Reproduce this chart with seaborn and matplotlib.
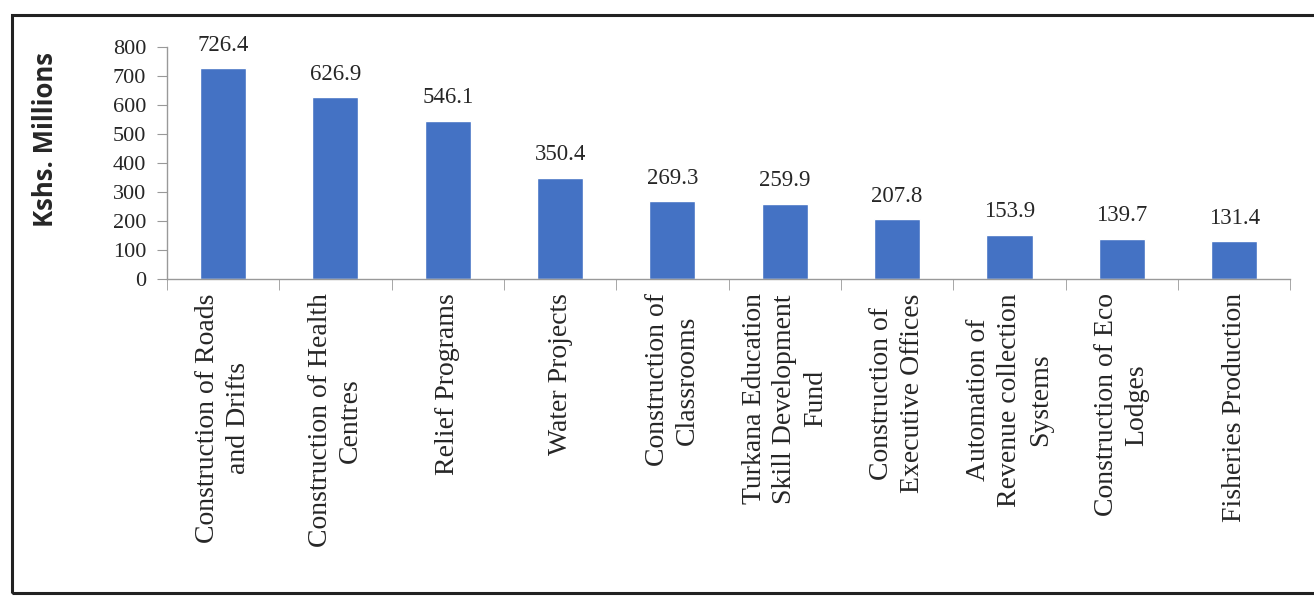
import matplotlib
matplotlib.use('Agg')
import matplotlib.pyplot as plt
import seaborn as sns
import pandas as pd
from matplotlib.patches import Rectangle

# projects and allocations (Kshs. Millions)
projects = ['Construction of Roads\nand Drifts', 'Construction of Health\nCentres', 'Relief Programs',
            'Water Projects', 'Construction of\nClassrooms', 'Turkana Education\nSkill Development\nFund',
            'Construction of\nExecutive Offices', 'Automation of\nRevenue collection\nSystems',
            'Construction of Eco\nLodges', 'Fisheries Production']
amounts = [726.4, 626.9, 546.1, 350.4, 269.3, 259.9, 207.8, 153.9, 139.7, 131.4]
yticks = [0, 100, 200, 300, 400, 500, 600, 700, 800]

df = pd.DataFrame({'Project': projects, 'Amount': amounts})

sns.set_style('white')
plt.rcParams['font.family'] = ['Liberation Serif', 'DejaVu Serif']

fig = plt.figure(figsize=(13.14, 6.01), dpi=100)
ax = fig.add_axes([0.127, 0.535, 0.855, 0.387])
sns.barplot(data=df, x='Project', y='Amount', color='#4472C4', saturation=1, width=0.41, ax=ax)

for bar, val in zip(ax.patches, amounts):
    ax.annotate(f'{val}', (bar.get_x() + bar.get_width() / 2, bar.get_height()),
                xytext=(0, 9), textcoords='offset points', ha='center', va='bottom', fontsize=16.5)

ax.set_ylim(0, 800)
ax.set_xlim(-0.5, len(projects) - 0.5)
ax.set_yticks(yticks)
ax.set_yticklabels([str(t) for t in yticks], fontsize=16)
ax.set_xticks(range(len(projects)))
ax.set_xticklabels(projects, rotation=90, fontsize=20, multialignment='center', linespacing=1.3)
ax.set_xticks([i - 0.5 for i in range(len(projects) + 1)], minor=True)
ax.tick_params(axis='x', which='major', length=0, pad=10)
ax.tick_params(axis='x', which='minor', length=8, color='#999999', direction='out', bottom=True)
ax.tick_params(axis='y', length=7, color='#999999', direction='out', left=True, pad=8)
ax.set_xlabel('')
ax.set_ylabel('Kshs. Millions', fontsize=18.5, fontweight='bold', family=['Open Sans', 'DejaVu Sans'])
ax.yaxis.set_label_coords(-0.096, 0.6)

for s in ['top', 'right']:
    ax.spines[s].set_visible(False)
for s in ['left', 'bottom']:
    ax.spines[s].set_color('#999999')
    ax.spines[s].set_linewidth(1)

# frame around the chart
fig.add_artist(Rectangle((12 / 1314, 1 - 593 / 601), 1.2, (593 - 15) / 601, transform=fig.transFigure,
                         fill=False, edgecolor='#222222', linewidth=2.2))

fig.savefig('out.png', dpi=100)
